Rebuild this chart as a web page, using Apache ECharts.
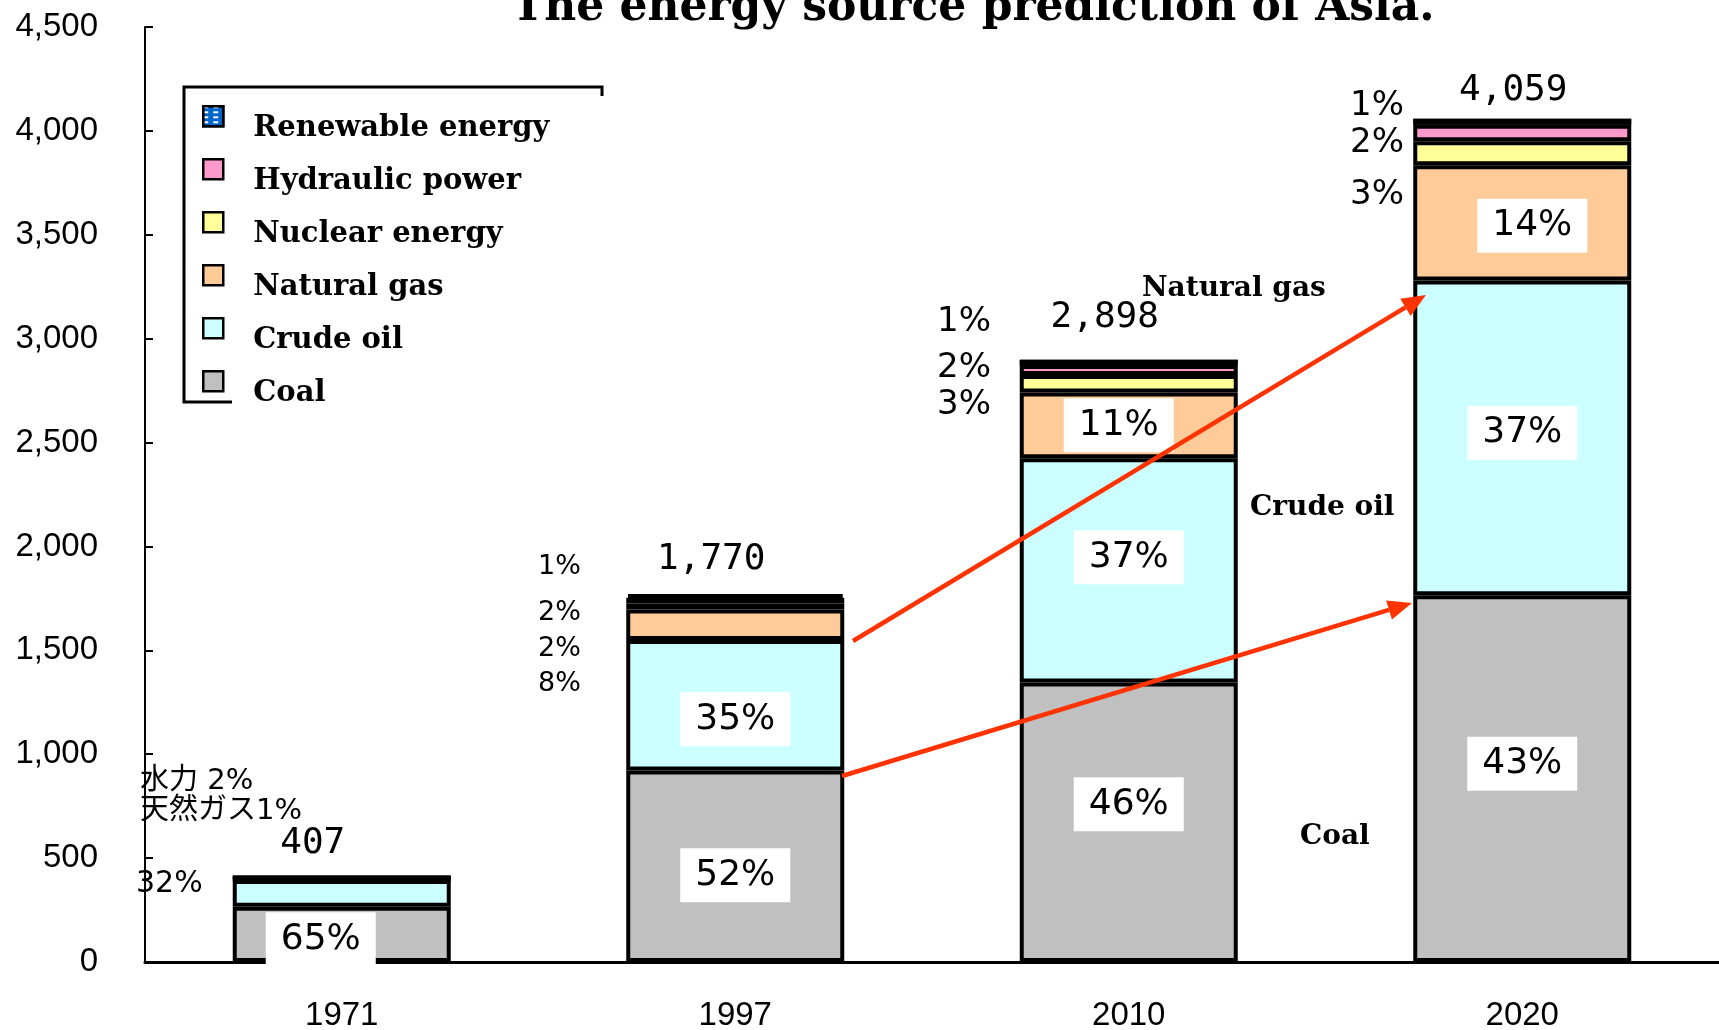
<!DOCTYPE html>
<html>
<head>
<meta charset="utf-8">
<title>The energy source prediction of Asia</title>
<script src="https://cdn.jsdelivr.net/npm/echarts@6/dist/echarts.min.js"></script>
<style>
html, body { margin: 0; padding: 0; background: #fff; }
#chart { width: 1719px; height: 1030px; }
</style>
</head>
<body>
<div id="chart"></div>
<script>
// values
const years = ['1971', '1997', '2010', '2020'];
const coal = [266, 922, 1345, 1765];
const crudeOil = [129, 628, 1080, 1515];
const naturalGas = [4, 146, 316, 555];
const nuclear = [0, 30, 84, 115];
const hydro = [8, 27, 48, 80];
const renewable = [0, 17, 25, 29];

const totals = years.map((y, i) => coal[i] + crudeOil[i] + naturalGas[i] + nuclear[i] + hydro[i] + renewable[i]);
const pct = (v, i) => Math.round(v / totals[i] * 100) + '%';

const seriesDefs = [
  { name: 'Coal', values: coal, color: '#c0c0c0', inside: [0, 1, 2, 3] },
  { name: 'Crude oil', values: crudeOil, color: '#ccffff', inside: [1, 2, 3] },
  { name: 'Natural gas', values: naturalGas, color: '#ffcc99', inside: [2, 3] },
  { name: 'Nuclear energy', values: nuclear, color: '#ffff99', inside: [] },
  { name: 'Hydraulic power', values: hydro, color: '#ff99cc', inside: [] },
  { name: 'Renewable energy', values: renewable, color: '#0066cc', inside: [] }
];

// nudges of the in-bar percentage boxes, per series then per bar
const insideShift = [
  [[-21, 5], [0, 9], [0, -18], [0, -15]],
  [null, [0, 14], [0, -13], [0, -5]],
  [null, null, [-10, 0], [10, 3]]
];
// where the total above each bar sits, relative to the bar top
const totalShift = [[-29, 0], [-24, -2], [-24, -10], [-9, 4]];

// small notes left of the bars: [bar, values, x, y, size, prefix]
const sideNotes = [
  [0, hydro, 140, 781, 29, '水力 '],
  [0, naturalGas, 140, 811, 29, '天然ガス'],
  [0, crudeOil, 136, 884, 30, ''],
  [1, renewable, 538, 567, 27, ''],
  [1, hydro, 538, 613, 27, ''],
  [1, nuclear, 538, 649, 27, ''],
  [1, naturalGas, 538, 684, 27, ''],
  [2, renewable, 937, 322, 34, ''],
  [2, hydro, 937, 368, 34, ''],
  [2, nuclear, 937, 405, 34, ''],
  [3, renewable, 1350, 106, 34, ''],
  [3, hydro, 1350, 143, 34, ''],
  [3, nuclear, 1350, 195, 34, '']
];

const chart = echarts.init(document.getElementById('chart'));

const series = seriesDefs.map((s, k) => {
  const itemStyle = { color: s.color, borderColor: '#000', borderWidth: 4 };
  if (s.name === 'Renewable energy') {
    itemStyle.decal = { symbol: 'rect', symbolSize: 1, color: '#ffffff', dashArrayX: [5, 5], dashArrayY: [2, 3], rotation: 0 };
  }
  return {
    name: s.name,
    type: 'bar',
    stack: 'total',
    barWidth: 218,
    itemStyle: itemStyle,
    data: s.values.map((v, i) => {
      const item = { value: v };
      if (s.inside.indexOf(i) >= 0) {
        item.label = {
          show: true,
          position: 'inside',
          offset: insideShift[k][i],
          formatter: pct(v, i),
          fontFamily: 'DejaVu Sans',
          fontSize: 36,
          color: '#000',
          backgroundColor: '#fff',
          padding: [9, 15],
          lineHeight: 36
        };
      }
      if (k === seriesDefs.length - 1) {
        item.label = {
          show: true,
          position: 'top',
          distance: 14,
          offset: totalShift[i],
          formatter: totals[i].toLocaleString('en-US'),
          fontFamily: 'DejaVu Sans Mono',
          fontSize: 36,
          color: '#000'
        };
      }
      return item;
    })
  };
});

const graphic = [];

graphic.push({
  type: 'text', z: 20, x: 973, y: 9,
  style: {
    text: 'The energy source prediction of Asia.',
    font: 'bold 44px "DejaVu Serif"', fill: '#000', align: 'center', verticalAlign: 'middle'
  }
});

// legend frame (only partly drawn in the original)
graphic.push({
  type: 'polyline', z: 20,
  shape: { points: [[232, 402], [184, 402], [184, 87], [602, 87], [602, 96]] },
  style: { stroke: '#000', lineWidth: 3, fill: null }
});

sideNotes.forEach(n => {
  graphic.push({
    type: 'text', z: 20, x: n[2], y: n[3],
    style: {
      text: n[5] + pct(n[1][n[0]], n[0]),
      font: n[4] + 'px "DejaVu Sans", "Noto Sans CJK JP"', fill: '#000', align: 'left', verticalAlign: 'middle'
    }
  });
});

[['Natural gas', 1142, 289], ['Crude oil', 1250, 508], ['Coal', 1300, 837]].forEach(t => {
  graphic.push({
    type: 'text', z: 20, x: t[1], y: t[2],
    style: { text: t[0], font: 'bold 28px "DejaVu Serif"', fill: '#000', align: 'left', verticalAlign: 'middle' }
  });
});

function arrow(x1, y1, x2, y2) {
  const a = Math.atan2(y2 - y1, x2 - x1), L = 24, W = 10;
  const bx = x2 - L * Math.cos(a), by = y2 - L * Math.sin(a);
  graphic.push({
    type: 'line', z: 21,
    shape: { x1: x1, y1: y1, x2: bx, y2: by },
    style: { stroke: '#ff3300', lineWidth: 4.5 }
  });
  graphic.push({
    type: 'polygon', z: 21,
    shape: { points: [[x2, y2], [bx - W * Math.sin(a), by + W * Math.cos(a)], [bx + W * Math.sin(a), by - W * Math.cos(a)]] },
    style: { fill: '#ff3300' }
  });
}
arrow(853, 641, 1426, 295);
arrow(842, 776, 1412, 603);

const option = {
  animation: false,
  backgroundColor: '#fff',
  grid: { left: 145, right: 0, top: 27, bottom: 68, outerBoundsMode: 'none' },
  legend: {
    data: ['Renewable energy', 'Hydraulic power', 'Nuclear energy', 'Natural gas', 'Crude oil', 'Coal'],
    orient: 'vertical',
    left: 202,
    top: 105,
    padding: 0,
    itemGap: 6.5,
    itemWidth: 20,
    itemHeight: 44,
    // square sits in the upper part of the item, the name a little lower
    icon: 'path://M0,0L20,0L20,20L0,20Z M0,44L0.01,44',
    itemStyle: { borderColor: '#000', borderWidth: 2.5 },
    textStyle: {
      fontFamily: 'DejaVu Serif',
      fontWeight: 'bold',
      fontSize: 29,
      color: '#000',
      padding: [0, 0, 0, 25]
    }
  },
  xAxis: {
    type: 'category',
    data: years,
    axisLine: { lineStyle: { color: '#000', width: 3 } },
    axisTick: { show: false },
    axisLabel: { fontFamily: 'Liberation Sans', fontSize: 33, color: '#000', margin: 37 }
  },
  yAxis: {
    type: 'value',
    min: 0,
    max: 4500,
    interval: 500,
    splitLine: { show: false },
    axisLine: { show: true, lineStyle: { color: '#000', width: 2 } },
    axisTick: { show: true, inside: true, length: 8, lineStyle: { color: '#000', width: 2 } },
    axisLabel: {
      fontFamily: 'Liberation Sans', fontSize: 33, color: '#000', margin: 47,
      formatter: v => v.toLocaleString('en-US')
    }
  },
  series: series,
  graphic: graphic
};

chart.setOption(option);
</script>
</body>
</html>
